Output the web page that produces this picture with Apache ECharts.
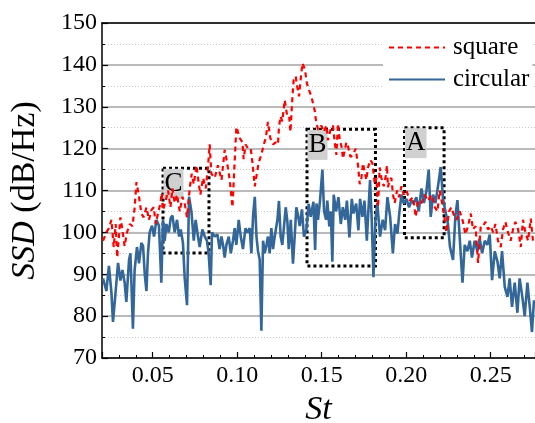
<!DOCTYPE html>
<html>
<head>
<meta charset="utf-8">
<script src="https://cdn.jsdelivr.net/npm/echarts@6/dist/echarts.min.js"></script>
<style>
  html, body { margin: 0; padding: 0; background: #fff; }
  #chart { width: 535px; height: 423px; }
</style>
</head>
<body>
<div id="chart"></div>
<script>
// Square cylinder: Strouhal number and SSD (dB/Hz)
const stSquare = [
  0.0206, 0.0226, 0.0241, 0.0256, 0.0269, 0.0281, 0.0290, 0.0309, 0.0321, 0.0334,
  0.0348, 0.0364, 0.0380, 0.0393, 0.0404, 0.0419, 0.0433, 0.0447, 0.0463, 0.0478,
  0.0492, 0.0506, 0.0518, 0.0531, 0.0546, 0.0553, 0.0561, 0.0577, 0.0591, 0.0605,
  0.0617, 0.0630, 0.0644, 0.0660, 0.0676, 0.0689, 0.0703, 0.0719, 0.0731, 0.0743,
  0.0759, 0.0770, 0.0782, 0.0798, 0.0814, 0.0827, 0.0837, 0.0847, 0.0867, 0.0886,
  0.0907, 0.0926, 0.0940, 0.0956, 0.0972, 0.0985, 0.0995, 0.1015, 0.1031, 0.1038,
  0.1050, 0.1064, 0.1080, 0.1090, 0.1104, 0.1114, 0.1127, 0.1143, 0.1157, 0.1169,
  0.1182, 0.1196, 0.1212, 0.1228, 0.1241, 0.1247, 0.1256, 0.1267, 0.1281, 0.1295,
  0.1307, 0.1315, 0.1327, 0.1334, 0.1346, 0.1354, 0.1366, 0.1374, 0.1386, 0.1400,
  0.1413, 0.1425, 0.1439, 0.1459, 0.1465, 0.1478, 0.1498, 0.1512, 0.1528, 0.1537,
  0.1552, 0.1567, 0.1577, 0.1587, 0.1596, 0.1607, 0.1617, 0.1626, 0.1646, 0.1656,
  0.1670, 0.1685, 0.1701, 0.1715, 0.1725, 0.1735, 0.1744, 0.1754, 0.1764, 0.1774,
  0.1788, 0.1800, 0.1814, 0.1824, 0.1833, 0.1843, 0.1853, 0.1867, 0.1879, 0.1886,
  0.1892, 0.1902, 0.1912, 0.1922, 0.1932, 0.1946, 0.1957, 0.1972, 0.1985, 0.2001,
  0.2021, 0.2040, 0.2056, 0.2070, 0.2090, 0.2109, 0.2129, 0.2149, 0.2169, 0.2185,
  0.2198, 0.2212, 0.2224, 0.2238, 0.2253, 0.2267, 0.2283, 0.2297, 0.2317, 0.2336,
  0.2350, 0.2366, 0.2382, 0.2395, 0.2410, 0.2425, 0.2441, 0.2454, 0.2469, 0.2484,
  0.2500, 0.2514, 0.2528, 0.2543, 0.2559, 0.2573, 0.2587, 0.2602, 0.2618, 0.2632,
  0.2646, 0.2662, 0.2678, 0.2691, 0.2705, 0.2721, 0.2737, 0.2750
];
const ssdSquare = [
  98, 100, 101, 103, 96.5, 102, 94, 103.6, 100.5, 96.7,
  100, 102, 101.5, 105.8, 112, 108.5, 104.5, 103.6, 106, 103,
  105.3, 106, 102, 104.5, 107, 109.4, 105.3, 107.6, 110, 106,
  110.5, 107, 109, 105, 108.5, 107, 103.6, 110.5, 114, 111.5,
  116, 112.5, 109, 113, 110.5, 115.5, 121, 114, 113, 116,
  112.5, 119.7, 116.7, 112.5, 106, 117, 125.2, 122.5, 121.5, 117.5,
  121, 120, 120, 116.7, 111, 113.5, 116.7, 118.5, 121, 122.5,
  126.4, 122.5, 121, 121.5, 121, 125, 127.7, 126.5, 131.6, 128,
  128, 124, 132.5, 136.4, 137.3, 135, 132.5, 136, 140.4, 139,
  135.5, 134, 132.4, 129, 127, 124.5, 125.5, 124, 125.5, 122,
  124.5, 125.5, 121.5, 118.5, 126, 122, 120.6, 117.6, 121.5, 120.5,
  118, 118.5, 120, 116, 111.5, 113, 116.5, 114.5, 112.5, 115.5,
  117.3, 116.5, 111.5, 113, 106, 115.5, 113, 111, 113.5, 116,
  110.8, 112.5, 113, 109, 107, 110, 108.4, 111, 109, 110,
  107.6, 108.4, 103.7, 107.5, 107, 109, 107.5, 109, 106, 105,
  110, 107, 104, 100, 105, 106, 104, 103, 105, 102.5,
  99.5, 101.5, 104.5, 100.7, 101.5, 92.7, 101.5, 101.5, 102.5, 100.7,
  101.5, 100, 102, 98, 96.5, 100.7, 102.5, 100, 98, 100.7,
  102.5, 100.7, 96.5, 103, 100, 98, 103.3, 98
];

// Circular cylinder: Strouhal number and SSD (dB/Hz)
const stCircular = [
  0.0206, 0.0226, 0.0241, 0.0256, 0.0265, 0.0281, 0.0295, 0.0309, 0.0321, 0.0334,
  0.0344, 0.0360, 0.0368, 0.0383, 0.0393, 0.0407, 0.0419, 0.0433, 0.0443, 0.0453,
  0.0463, 0.0472, 0.0482, 0.0496, 0.0508, 0.0522, 0.0537, 0.0551, 0.0561, 0.0571,
  0.0581, 0.0595, 0.0607, 0.0617, 0.0630, 0.0644, 0.0656, 0.0666, 0.0679, 0.0689,
  0.0703, 0.0715, 0.0729, 0.0743, 0.0754, 0.0768, 0.0778, 0.0794, 0.0808, 0.0821,
  0.0831, 0.0843, 0.0851, 0.0867, 0.0883, 0.0896, 0.0907, 0.0916, 0.0926, 0.0936,
  0.0950, 0.0962, 0.0975, 0.0985, 0.0995, 0.1009, 0.1021, 0.1034, 0.1049, 0.1060,
  0.1074, 0.1084, 0.1094, 0.1104, 0.1114, 0.1123, 0.1133, 0.1143, 0.1153, 0.1163,
  0.1173, 0.1182, 0.1192, 0.1202, 0.1212, 0.1222, 0.1238, 0.1247, 0.1257, 0.1267,
  0.1277, 0.1287, 0.1297, 0.1305, 0.1317, 0.1330, 0.1340, 0.1350, 0.1360, 0.1370,
  0.1383, 0.1395, 0.1409, 0.1423, 0.1435, 0.1451, 0.1461, 0.1469, 0.1478, 0.1490,
  0.1504, 0.1514, 0.1526, 0.1533, 0.1545, 0.1554, 0.1563, 0.1571, 0.1585, 0.1599,
  0.1613, 0.1625, 0.1639, 0.1649, 0.1664, 0.1678, 0.1688, 0.1704, 0.1717, 0.1727,
  0.1741, 0.1753, 0.1767, 0.1776, 0.1786, 0.1796, 0.1806, 0.1818, 0.1829, 0.1845,
  0.1861, 0.1875, 0.1889, 0.1905, 0.1921, 0.1934, 0.1948, 0.1960, 0.1972, 0.1985,
  0.2001, 0.2017, 0.2031, 0.2044, 0.2060, 0.2074, 0.2090, 0.2105, 0.2120, 0.2133,
  0.2145, 0.2159, 0.2173, 0.2188, 0.2204, 0.2218, 0.2232, 0.2247, 0.2259, 0.2277,
  0.2291, 0.2303, 0.2317, 0.2333, 0.2346, 0.2362, 0.2376, 0.2389, 0.2405, 0.2421,
  0.2435, 0.2449, 0.2465, 0.2480, 0.2494, 0.2508, 0.2524, 0.2540, 0.2553, 0.2567,
  0.2583, 0.2599, 0.2612, 0.2626, 0.2642, 0.2658, 0.2671, 0.2685, 0.2701, 0.2717,
  0.2731, 0.2744, 0.2756
];
const ssdCircular = [
  89, 86, 92, 85.5, 78.6, 86, 92.7, 88.5, 91, 88,
  83.4, 93.4, 95, 77, 91, 96.5, 92.6, 97.5, 96.7, 90,
  86, 95, 100, 101.6, 99, 103, 101.6, 88, 103, 98,
  102, 100, 103.5, 104, 100, 103, 99, 100.7, 97.5, 89.3,
  82.6, 108.5, 105, 98, 103, 99, 96.5, 100.7, 99, 98,
  95, 87.4, 100, 99, 99.5, 96, 99, 97, 94, 97,
  99, 95, 98, 101, 97, 103, 99, 96, 101, 100,
  101, 95, 104, 108.5, 99, 95.5, 93.5, 76.5, 98, 95,
  97, 99, 95, 101, 96, 99, 103, 107.5, 99, 97,
  101.5, 106, 102.5, 96, 103, 92.5, 99, 106, 104, 101.5,
  105.5, 99, 100.5, 106.8, 103.7, 107.3, 95.8, 106.9, 103, 107.6,
  115, 105, 103, 107.6, 101.4, 105, 93, 109, 105, 108.4,
  102, 106, 103, 107.6, 98.8, 108, 104.5, 106.9, 100.5, 108,
  103.7, 107.6, 98, 105, 112.5, 103, 89.3, 103, 107, 99,
  103, 100.5, 108.4, 103.7, 95, 102, 99.7, 105, 109, 106.9,
  108, 106, 107.6, 106.9, 108.4, 105, 110.5, 107, 110, 115,
  103.7, 109, 107, 111, 115.6, 108, 105, 102, 96.5, 93.4,
  104, 107.7, 98.5, 88, 97, 95.5, 98, 94, 98, 95.5,
  98.5, 95, 98, 97, 99.5, 88.6, 95.5, 93, 89, 95.5,
  87, 84.6, 89, 82.2, 88, 80.8, 89, 85.2, 80, 88,
  82.2, 76.2, 83.8
];

// Highlighted bands: label, St range, SSD range (top, bottom)
const boxNames = ['C', 'B', 'A'];
const boxSt = [[0.0561, 0.0833], [0.1413, 0.1818], [0.1990, 0.2224]];
const boxSSD = [[115.3, 95.1], [124.6, 92.0], [125.0, 98.7]];

const serif = 'Liberation Serif';

const pairs = (xs, ys) => xs.map((x, i) => [x, ys[i]]);

const chart = echarts.init(document.getElementById('chart'), null, { renderer: 'canvas' });

chart.setOption({
  animation: false,
  backgroundColor: '#fff',
  grid: { left: 102, right: 0, top: 23, bottom: 65, containLabel: false, outerBoundsMode: 'none' },
  legend: {
    data: ['square', 'circular'],
    orient: 'vertical',
    left: 383,
    top: 29,
    padding: [6, 3, 6, 5],
    backgroundColor: '#fff',
    itemWidth: 56,
    itemHeight: 14,
    itemGap: 7,
    itemStyle: { opacity: 0 },
    textStyle: { fontFamily: serif, fontSize: 25, color: '#000', padding: [0, 0, 0, 3] }
  },
  xAxis: [{
    type: 'value',
    min: 0.02,
    max: 0.2762,
    splitNumber: 5,
    name: 'St',
    nameLocation: 'middle',
    nameGap: 35,
    nameTextStyle: { fontFamily: serif, fontSize: 34, fontStyle: 'italic', color: '#000' },
    axisLine: { show: true, lineStyle: { color: '#000', width: 1.5 } },
    axisTick: { show: true, inside: true, length: 6, lineStyle: { color: '#000', width: 1.2 } },
    minorTick: { show: true, splitNumber: 5, length: 3, lineStyle: { color: '#000', width: 1 } },
    axisLabel: {
      showMinLabel: false,
      showMaxLabel: false,
      margin: 6,
      fontFamily: serif,
      fontSize: 24,
      color: '#000',
      formatter: (v) => v.toFixed(2)
    },
    splitLine: { show: false },
    minorSplitLine: { show: false }
  }, {
    type: 'value',
    position: 'top',
    min: 0.02,
    max: 0.2762,
    axisLine: { show: true, lineStyle: { color: '#000', width: 1.5 } },
    axisTick: { show: false },
    axisLabel: { show: false },
    splitLine: { show: false }
  }],
  yAxis: {
    type: 'value',
    min: 70,
    max: 150,
    interval: 10,
    name: '{i|SSD} (dB/Hz)',
    nameLocation: 'middle',
    nameGap: 60,
    nameTextStyle: {
      fontFamily: serif, fontSize: 34, color: '#000',
      rich: { i: { fontFamily: serif, fontSize: 34, fontStyle: 'italic', color: '#000' } }
    },
    axisLine: { show: true, lineStyle: { color: '#000', width: 1.5 } },
    axisTick: { show: true, inside: true, length: 6, lineStyle: { color: '#000', width: 1.2 } },
    minorTick: { show: true, splitNumber: 2, length: 3, lineStyle: { color: '#000', width: 1 } },
    axisLabel: { margin: 5, fontFamily: serif, fontSize: 24, color: '#000' },
    splitLine: { show: true, lineStyle: { color: '#a3a3a3', width: 1.5 } },
    minorSplitLine: { show: true, lineStyle: { color: '#c8c8c8', width: 1, type: [1, 2] } }
  },
  series: [
    {
      name: 'circular',
      type: 'line',
      data: pairs(stCircular, ssdCircular),
      symbol: 'none',
      z: 2,
      lineStyle: { color: '#336699', width: 2.6 },
      itemStyle: { color: '#336699' }
    },
    {
      name: 'square',
      type: 'line',
      data: pairs(stSquare, ssdSquare),
      symbol: 'none',
      z: 3,
      lineStyle: { color: '#ff0000', width: 2.2, type: [5, 4] },
      itemStyle: { color: '#ff0000' }
    },
    {
      name: 'bands',
      type: 'line',
      data: [],
      z: 5,
      markArea: {
        silent: true,
        itemStyle: { color: 'rgba(0,0,0,0)', borderColor: '#000', borderWidth: 3, borderType: 'dotted' },
        label: {
          show: true,
          position: 'insideTopLeft',
          distance: 2,
          fontFamily: serif,
          fontSize: 27,
          lineHeight: 30,
          color: '#000',
          backgroundColor: '#d0d0d0',
          padding: [0, 1]
        },
        data: boxNames.map((n, k) => [
          { name: n, coord: [boxSt[k][0], boxSSD[k][0]] },
          { coord: [boxSt[k][1], boxSSD[k][1]] }
        ])
      }
    }
  ]
});
</script>
</body>
</html>
